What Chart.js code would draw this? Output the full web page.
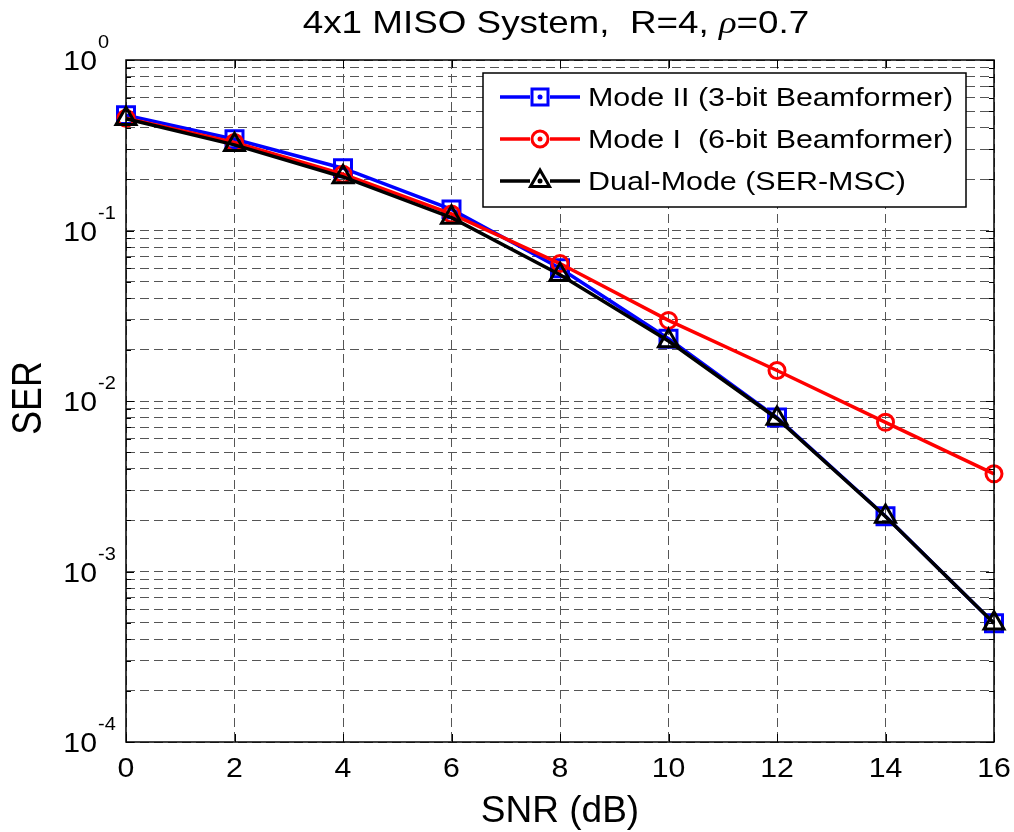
<!DOCTYPE html>
<html>
<head>
<meta charset="utf-8">
<script src="https://cdn.jsdelivr.net/npm/chart.js@4.4.1/dist/chart.umd.min.js"></script>
<style>
  html, body { margin: 0; padding: 0; background: #fff; }
  canvas { display: block; }
</style>
</head>
<body>
<canvas id="c" width="1014" height="832"></canvas>
<script>
'use strict';

// データ
const snr = [0, 2, 4, 6, 8, 10, 12, 14, 16];
const modeII = [0.475, 0.343, 0.232, 0.133, 0.060, 0.0232, 0.0080, 0.00211, 0.000497]; // 3-bit
const modeI = [0.455, 0.328, 0.214, 0.125, 0.064, 0.0297, 0.0151, 0.0075, 0.00374];    // 6-bit
const dualMode = [0.452, 0.318, 0.206, 0.119, 0.055, 0.0225, 0.0079, 0.00210, 0.000497]; // SER-MSC

// 軸の目盛り
const xTicks = [0, 2, 4, 6, 8, 10, 12, 14, 16];
const yDecades = [1e-4, 1e-3, 1e-2, 1e-1, 1];
const yExpLabels = ['-4', '-3', '-2', '-1', '0'];
const yMinorSteps = [1, 2, 3, 4, 5, 6, 7, 8, 9];

const seriesNames = ['Mode II (3-bit Beamformer)', 'Mode I  (6-bit Beamformer)', 'Dual-Mode (SER-MSC)'];

const SANS = '"Liberation Sans", Arial, sans-serif';
const GRID = 'rgb(85,85,85)';

// 対数軸のグリッド値（各デケードの1～9倍）
const yGrid = [];
yDecades.forEach((d, i) => {
  if (i === yDecades.length - 1) { yGrid.push(d); return; }
  yMinorSteps.forEach(m => yGrid.push(d * m));
});

const toPoints = (arr) => arr.map((v, i) => ({ x: snr[i], y: v }));

// 横に伸ばした文字を描く
function drawRuns(ctx, runs, x, baseline, sx, align) {
  let total = 0;
  runs.forEach(r => { ctx.font = r.font; r.w = ctx.measureText(r.text).width; total += r.w; });
  let left = x;
  if (align === 'center') left = x - total * sx / 2;
  if (align === 'right') left = x - total * sx;
  ctx.save();
  ctx.translate(left, baseline);
  ctx.scale(sx, 1);
  ctx.textAlign = 'left';
  ctx.textBaseline = 'alphabetic';
  let cx = 0;
  runs.forEach(r => { ctx.font = r.font; ctx.fillText(r.text, cx, 0); cx += r.w; });
  ctx.restore();
  return total * sx;
}

// 凡例のマーカー
function marker(ctx, style, x, y, color) {
  ctx.save();
  ctx.strokeStyle = color;
  ctx.lineWidth = 3;
  ctx.beginPath();
  if (style === 'rect') {
    ctx.rect(x - 8, y - 8, 16, 16);
  } else if (style === 'circle') {
    ctx.arc(x, y, 8, 0, Math.PI * 2);
  } else {
    const r = 11;
    ctx.moveTo(x, y - r);
    ctx.lineTo(x + 0.866 * r, y + 0.5 * r);
    ctx.lineTo(x - 0.866 * r, y + 0.5 * r);
    ctx.closePath();
  }
  ctx.stroke();
  // 中央の小さな点（線の切れ端）
  ctx.fillStyle = color;
  ctx.beginPath();
  ctx.arc(x, y, 2.5, 0, Math.PI * 2);
  ctx.fill();
  ctx.restore();
}

// MATLAB風の枠・目盛り・文字
const matlabFrame = {
  id: 'matlabFrame',
  afterDatasetsDraw(chart) {
    const ctx = chart.ctx;
    const a = chart.chartArea;
    const xs = chart.scales.x, ys = chart.scales.y;
    ctx.save();
    ctx.strokeStyle = '#000';
    ctx.lineWidth = 1.5;
    ctx.strokeRect(a.left, a.top, a.right - a.left, a.bottom - a.top);
    ctx.beginPath();
    xTicks.forEach(v => {
      const px = Math.round(xs.getPixelForValue(v)) + 0.5;
      ctx.moveTo(px, a.bottom); ctx.lineTo(px, a.bottom - 8);
      ctx.moveTo(px, a.top); ctx.lineTo(px, a.top + 8);
    });
    yGrid.forEach(v => {
      const py = Math.round(ys.getPixelForValue(v)) + 0.5;
      const len = yDecades.includes(v) ? 8 : 5;
      ctx.moveTo(a.left, py); ctx.lineTo(a.left + len, py);
      ctx.moveTo(a.right, py); ctx.lineTo(a.right - len, py);
    });
    ctx.lineWidth = 1;
    ctx.stroke();
    ctx.restore();
  },
  afterDraw(chart) {
    const ctx = chart.ctx;
    const a = chart.chartArea;
    const xs = chart.scales.x, ys = chart.scales.y;
    ctx.save();
    ctx.fillStyle = '#000';

    // x目盛りラベル
    xTicks.forEach(v => {
      drawRuns(ctx, [{ text: String(v), font: '28px ' + SANS }], xs.getPixelForValue(v), 777, 1.08, 'center');
    });
    // y目盛りラベル 10^n
    yDecades.forEach((d, i) => {
      const py = ys.getPixelForValue(d);
      drawRuns(ctx, [{ text: '10', font: '28px ' + SANS }], 97, py + 10, 1.08, 'right');
      drawRuns(ctx, [{ text: yExpLabels[i], font: '19px ' + SANS }], 98, py - 12, 1.05, 'left');
    });

    // タイトル
    drawRuns(ctx, [
      { text: '4x1 MISO System,  R=4, ', font: '32px ' + SANS },
      { text: 'ρ', font: 'italic 32px "Liberation Serif", serif' },
      { text: '=0.7', font: '32px ' + SANS }
    ], 556, 33, 1.15, 'center');

    // 軸タイトル
    drawRuns(ctx, [{ text: 'SNR (dB)', font: '37px ' + SANS }], (a.left + a.right) / 2, 822, 1.0, 'center');
    ctx.save();
    ctx.translate(41, 398);
    ctx.rotate(-Math.PI / 2);
    ctx.scale(0.85, 1);
    ctx.font = '42px ' + SANS;
    ctx.textAlign = 'center';
    ctx.textBaseline = 'alphabetic';
    ctx.fillText('SER', 0, 0);
    ctx.restore();

    // 凡例
    const lx = 483, ly = 73, lw = 483, lh = 134;
    ctx.fillStyle = '#fff';
    ctx.fillRect(lx, ly, lw, lh);
    ctx.strokeStyle = '#000';
    ctx.lineWidth = 1.5;
    ctx.strokeRect(lx, ly, lw, lh);
    const rows = [97, 139, 181];
    const colors = ['#0000ff', '#ff0000', '#000000'];
    const styles = ['rect', 'circle', 'triangle'];
    rows.forEach((ry, i) => {
      ctx.strokeStyle = colors[i];
      ctx.lineWidth = 3.5;
      ctx.beginPath();
      ctx.moveTo(500, ry); ctx.lineTo(530, ry);
      ctx.moveTo(550, ry); ctx.lineTo(580, ry);
      ctx.stroke();
      marker(ctx, styles[i], 540, ry, colors[i]);
      ctx.fillStyle = '#000';
      drawRuns(ctx, [{ text: seriesNames[i], font: '26px ' + SANS }], 588, ry + 9, 1.17, 'left');
    });
    ctx.restore();
  }
};

const makeSet = (label, arr, color, style, radius, order) => ({
  label: label,
  data: toPoints(arr),
  borderColor: color,
  backgroundColor: 'rgba(0,0,0,0)',
  borderWidth: 3.5,
  pointStyle: style,
  pointRadius: radius,
  pointBorderWidth: 3,
  pointBorderColor: color,
  pointBackgroundColor: 'rgba(0,0,0,0)',
  tension: 0,
  clip: false,
  order: order
});

const chart = new Chart(document.getElementById('c'), {
  type: 'line',
  data: {
    datasets: [
      makeSet(seriesNames[0], modeII, '#0000ff', 'rect', 12, 3),
      makeSet(seriesNames[1], modeI, '#ff0000', 'circle', 8, 2),
      makeSet(seriesNames[2], dualMode, '#000000', 'triangle', 11.5, 1)
    ]
  },
  options: {
    responsive: false,
    devicePixelRatio: 1,
    animation: false,
    layout: { padding: { top: 60, right: 20, left: 0, bottom: 0 } },
    plugins: {
      legend: { display: false },
      title: { display: false },
      tooltip: { enabled: false }
    },
    scales: {
      x: {
        type: 'linear',
        min: 0,
        max: 16,
        ticks: { display: false, stepSize: 2 },
        grid: { color: GRID, lineWidth: 1, drawTicks: false },
        border: { display: false, dash: [9, 5] },
        afterFit(scale) { scale.height = 90; }
      },
      y: {
        type: 'logarithmic',
        min: 1e-4,
        max: 1,
        ticks: { display: false },
        grid: { color: GRID, lineWidth: 1, drawTicks: false },
        border: { display: false, dash: [9, 5] },
        afterBuildTicks(scale) { scale.ticks = yGrid.map(v => ({ value: v, major: yDecades.includes(v) })); },
        afterFit(scale) { scale.width = 126; }
      }
    }
  },
  plugins: [matlabFrame]
});
</script>
</body>
</html>
